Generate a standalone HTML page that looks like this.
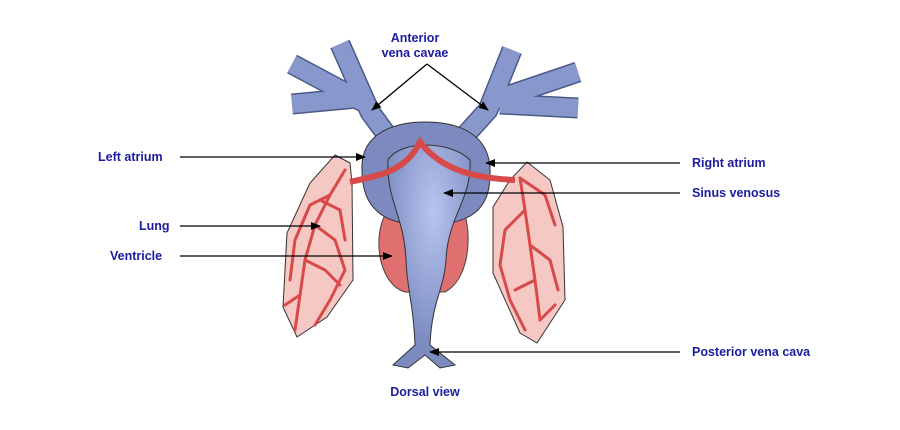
<!DOCTYPE html>
<html><head><style>
html,body{margin:0;padding:0;background:#fff;}
svg{display:block;}
.t{font-family:"Liberation Sans",sans-serif;font-weight:bold;font-size:12.5px;fill:#1c1c9e;}
</style></head><body>
<svg width="900" height="430" viewBox="0 0 900 430">
<defs>
<marker id="a" markerWidth="10" markerHeight="8" refX="9" refY="4" orient="auto" markerUnits="userSpaceOnUse"><path d="M0,0 L10,4 L0,8 z" fill="#000"/></marker>
<radialGradient id="bg" cx="0.55" cy="0.3" r="0.6"><stop offset="0" stop-color="#b8c4f0"/><stop offset="1" stop-color="#7c8cc0"/></radialGradient>
</defs>
<!-- lungs -->
<polygon points="335,155 350,163 352,183 353,280 327,317 297,337 283,307 287,233 310,183" fill="#f6c8c4" stroke="#333" stroke-width="1"/>
<polygon points="527,162 550,180 563,227 565,300 537,343 520,333 493,273 493,207 510,180" fill="#f6c8c4" stroke="#333" stroke-width="1"/>
<g stroke="#d84a4a" stroke-width="3" fill="none" stroke-linecap="round">
<path d="M345,170 L330,195 L315,225 L305,260 L300,295 L295,330"/>
<path d="M330,195 L310,205 L295,240 L290,280"/>
<path d="M315,225 L335,240 L345,270 L330,300 L315,325"/>
<path d="M305,260 L325,270 L340,285"/>
<path d="M320,200 L340,210 L345,240"/>
<path d="M300,295 L285,305"/>
<path d="M520,178 L525,210 L530,245 L535,280 L540,320"/>
<path d="M525,210 L505,230 L500,265 L510,300 L525,330"/>
<path d="M530,245 L550,260 L558,290"/>
<path d="M520,178 L545,195 L555,225"/>
<path d="M535,280 L515,290"/>
<path d="M540,320 L555,305"/>
</g>
<!-- anterior vena cavae -->
<g fill="none" stroke="#4a5a88" stroke-width="21" stroke-linecap="butt" stroke-linejoin="round">
<path d="M398,150 L370,112 L340,44"/><path d="M365,103 L292,64"/><path d="M357,98 L292,104"/>
<path d="M452,150 L488,110 L512,50"/><path d="M495,100 L578,72"/><path d="M500,104 L578,108"/>
</g>
<g fill="none" stroke="#8898cc" stroke-width="18" stroke-linecap="butt" stroke-linejoin="round">
<path d="M398,150 L370,112 L340,44"/><path d="M365,103 L292,64"/><path d="M357,98 L292,104"/>
<path d="M452,150 L488,110 L512,50"/><path d="M495,100 L578,72"/><path d="M500,104 L578,108"/>
</g>
<!-- ventricle -->
<path d="M385,215 L465,215 C472,240 468,280 445,292 L405,292 C380,285 372,240 385,215 Z" fill="#e07070" stroke="#444"/>
<!-- atria -->
<path d="M362,170 C360,130 400,122 425,122 C460,122 492,135 490,175 C490,210 470,225 425,225 C385,225 362,210 362,170 Z" fill="#7c8ac0" stroke="#333"/>
<!-- sinus venosus / trunk -->
<path d="M388,160 C400,140 450,140 470,160 C472,200 448,215 446,260 C444,290 432,300 430,345 L455,365 L440,368 L425,355 L408,368 L393,365 L415,345 C413,300 407,290 406,260 C404,215 386,200 388,160 Z" fill="url(#bg)" stroke="#333"/>
<!-- pulmonary vessels -->
<path d="M350,182 C380,175 405,172 420,142 C440,168 470,178 515,180" fill="none" stroke="#d84a4a" stroke-width="6"/>
<!-- labels -->
<text class="t" x="415" y="42" text-anchor="middle">Anterior</text>
<text class="t" x="415" y="57" text-anchor="middle">vena cavae</text>
<text class="t" x="98" y="161">Left atrium</text>
<text class="t" x="139" y="230">Lung</text>
<text class="t" x="110" y="260">Ventricle</text>
<text class="t" x="692" y="167">Right atrium</text>
<text class="t" x="692" y="197">Sinus venosus</text>
<text class="t" x="692" y="356">Posterior vena cava</text>
<text class="t" x="425" y="396" text-anchor="middle">Dorsal view</text>
<g stroke="#000" stroke-width="1.3" marker-end="url(#a)">
<line x1="427" y1="64" x2="372" y2="110"/>
<line x1="427" y1="64" x2="488" y2="110"/>
<line x1="180" y1="157" x2="365" y2="157"/>
<line x1="180" y1="226" x2="320" y2="226"/>
<line x1="180" y1="256" x2="392" y2="256"/>
<line x1="680" y1="163" x2="486" y2="163"/>
<line x1="680" y1="193" x2="444" y2="193"/>
<line x1="680" y1="352" x2="430" y2="352"/>
</g>
</svg>
</body></html>
